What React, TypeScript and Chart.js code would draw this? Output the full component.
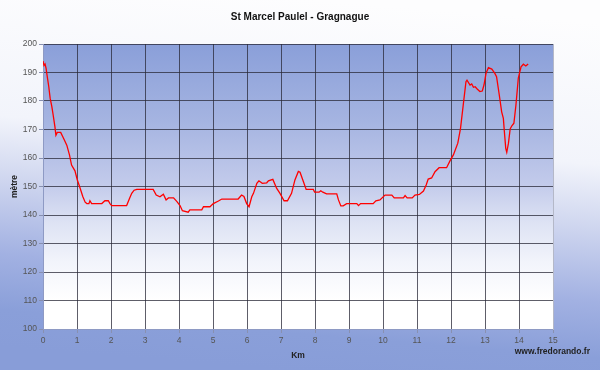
import React, { useEffect, useRef } from "react";
import { Chart, registerables } from "chart.js";

Chart.register(...registerables);

const TITLE = "St Marcel Paulel - Gragnague";
const X_TITLE = "Km";
const Y_TITLE = "mètre";
const CREDIT = "www.fredorando.fr";

const xTicks = [0, 1, 2, 3, 4, 5, 6, 7, 8, 9, 10, 11, 12, 13, 14, 15];
const yTicks = [100, 110, 120, 130, 140, 150, 160, 170, 180, 190, 200];

const distanceKm = [
  0.0, 0.03, 0.06, 0.09, 0.12, 0.17, 0.21, 0.26, 0.3, 0.35, 0.38, 0.42, 0.52, 0.6, 0.7, 0.78, 0.84, 0.94,
  1.01, 1.09, 1.17, 1.24, 1.29, 1.35, 1.38, 1.43, 1.73, 1.82, 1.92, 1.97, 2.02, 2.46, 2.55, 2.61, 2.68,
  2.76, 3.24, 3.33, 3.44, 3.54, 3.62, 3.69, 3.84, 3.94, 4.03, 4.1, 4.27, 4.32, 4.67, 4.72, 4.91, 5.01,
  5.16, 5.26, 5.74, 5.84, 5.91, 5.99, 6.06, 6.14, 6.19, 6.29, 6.35, 6.45, 6.58, 6.63, 6.76, 6.87, 6.97,
  7.09, 7.19, 7.31, 7.41, 7.51, 7.56, 7.66, 7.74, 7.95, 7.99, 8.12, 8.17, 8.23, 8.34, 8.64, 8.69, 8.76,
  8.83, 8.93, 9.23, 9.28, 9.34, 9.71, 9.79, 9.91, 10.06, 10.26, 10.33, 10.6, 10.65, 10.71, 10.86, 10.94,
  11.07, 11.19, 11.27, 11.33, 11.43, 11.53, 11.65, 11.87, 11.97, 12.07, 12.2, 12.28, 12.36, 12.44, 12.47,
  12.56, 12.61, 12.66, 12.71, 12.77, 12.85, 12.92, 12.97, 13.03, 13.1, 13.2, 13.29, 13.34, 13.42, 13.49,
  13.54, 13.57, 13.61, 13.64, 13.69, 13.74, 13.79, 13.85, 13.91, 13.98, 14.06, 14.13, 14.2, 14.27,
];

const altitudeM = [
  194, 192.5, 193, 191.5, 189, 185, 181, 178, 175, 171, 168, 169, 169, 167, 164.5, 161, 157.5, 155.5,
  152.3, 149.5, 146.5, 144.5, 144, 144, 145, 144, 144, 145, 145, 144, 143.3, 143.3, 146, 147.6, 148.7,
  149, 149, 147, 146.4, 147.3, 145.3, 146, 146, 144.7, 143.3, 141.5, 141, 141.8, 141.8, 142.9, 142.9, 144,
  144.9, 145.6, 145.6, 147, 146.5, 144, 142.9, 146.4, 147.6, 151.1, 152, 151.1, 151.3, 152, 152.5, 149.4, 147.6,
  145, 145, 147.6, 152.3, 155.3, 155, 151.7, 149, 149, 148, 148, 148.5, 148, 147.4, 147.4, 145.3, 143.2,
  143.2, 144, 144, 143.3, 144, 144, 145, 145.3, 147, 147, 146, 146, 146.8, 146, 146, 147,
  147.2, 148.4, 150.5, 152.6, 153, 155.2, 156.6, 156.6, 159, 161.1, 165.2, 170.4, 178.6, 186.8, 187.3,
  185.6, 186, 184.8, 185, 184.2, 183.3, 183.5, 185.6, 189.7, 191.7, 191.2, 189.7, 188.5, 182.1, 176.2,
  173.9, 169.2, 163.4, 162, 165.2, 170.2, 171.3, 172.2, 178.6, 188, 192, 192.9, 192.3, 193,
];

const FONT = "'Liberation Sans', Arial, sans-serif";

const backgroundPlugin = {
  id: "gradientBackground",
  beforeDraw(chart: any) {
    const { ctx, width, height, chartArea: a } = chart;
    ctx.save();
    const g = ctx.createLinearGradient(width / 2 + 15, 0, width / 2 - 15, height);
    g.addColorStop(0, "rgb(253,253,254)");
    g.addColorStop(0.38, "rgb(242,244,251)");
    g.addColorStop(0.55, "rgb(207,214,239)");
    g.addColorStop(0.75, "rgb(162,177,226)");
    g.addColorStop(0.9, "rgb(138,159,217)");
    g.addColorStop(1, "rgb(136,157,216)");
    ctx.fillStyle = g;
    ctx.fillRect(0, 0, width, height);

    const pg = ctx.createLinearGradient(0, a.top, 0, a.top + (a.bottom - a.top) * 0.9);
    pg.addColorStop(0, "rgb(138,159,217)");
    pg.addColorStop(0.3, "rgb(165,180,225)");
    pg.addColorStop(0.55, "rgb(195,203,235)");
    pg.addColorStop(0.7, "rgb(222,227,244)");
    pg.addColorStop(0.85, "rgb(242,244,251)");
    pg.addColorStop(1, "rgb(255,255,255)");
    ctx.fillStyle = pg;
    ctx.fillRect(a.left, a.top, a.right - a.left, a.bottom - a.top);
    ctx.restore();
  },
  afterDraw(chart: any) {
    const { ctx } = chart;
    ctx.save();
    ctx.font = `bold 8.5px ${FONT}`;
    ctx.fillStyle = "#222";
    ctx.textAlign = "right";
    ctx.textBaseline = "middle";
    ctx.fillText(CREDIT, 590, 352);
    ctx.restore();
  },
};

export default function App() {
  const ref = useRef<HTMLCanvasElement | null>(null);

  useEffect(() => {
    if (!ref.current) return;
    const points = distanceKm.map((x, i) => ({ x, y: altitudeM[i] }));
    const gridColor = (c: any) => {
      const v = c.tick ? c.tick.value : null;
      if (v === xTicks[xTicks.length - 1]) return "#b4b8c8";
      return "rgba(40,40,55,0.75)";
    };
    const chart = new Chart(ref.current, {
      type: "line",
      data: {
        datasets: [
          {
            data: points,
            borderColor: "#ff0000",
            borderWidth: 1.3,
            pointRadius: 0,
            tension: 0,
            fill: false,
          },
        ],
      },
      plugins: [backgroundPlugin],
      options: {
        responsive: false,
        animation: false,
        layout: { padding: { top: 0, left: 0, right: 0, bottom: 0 } },
        plugins: {
          legend: { display: false },
          tooltip: { enabled: false },
          title: {
            display: true,
            text: TITLE,
            color: "#111",
            font: { family: FONT, size: 10, weight: "bold" },
            padding: { top: 11, bottom: 21 },
          },
        },
        scales: {
          x: {
            type: "linear",
            min: xTicks[0],
            max: xTicks[xTicks.length - 1],
            afterFit: (s: any) => {
              s.height = 41;
            },
            ticks: {
              stepSize: 1,
              autoSkip: false,
              maxRotation: 0,
              padding: 3,
              color: "#555",
              font: { family: FONT, size: 8.5 },
            },
            grid: { color: gridColor, lineWidth: 1, tickLength: 4, tickColor: "#8890b0" },
            border: { display: true, color: "#8e9ac4", width: 1 },
            title: {
              display: true,
              text: X_TITLE,
              color: "#222",
              font: { family: FONT, size: 8.5, weight: "bold" },
              padding: { top: 0, bottom: 9 },
            },
          },
          y: {
            type: "linear",
            min: yTicks[0],
            max: yTicks[yTicks.length - 1],
            afterFit: (s: any) => {
              s.width = 43;
            },
            ticks: {
              stepSize: 10,
              padding: 2,
              color: "#555",
              font: { family: FONT, size: 8.5 },
            },
            grid: { color: "rgba(40,40,55,0.75)", lineWidth: 1, tickLength: 4, tickColor: "#8890b0" },
            border: { display: true, color: "#8e9ac4", width: 1 },
            title: {
              display: true,
              text: Y_TITLE,
              color: "#222",
              font: { family: FONT, size: 8.5, weight: "bold" },
              padding: { top: 10, bottom: 0 },
            },
          },
          yRight: {
            type: "linear",
            position: "right",
            min: yTicks[0],
            max: yTicks[yTicks.length - 1],
            afterFit: (s: any) => {
              s.width = 47;
            },
            ticks: { display: false },
            grid: { display: false, drawTicks: false },
            border: { display: true, color: "#b4b8c8", width: 1 },
          },
        },
      },
    });
    return () => chart.destroy();
  }, []);

  return (
    <div style={{ position: "fixed", left: 0, top: 0, width: 600, height: 370 }}>
      <canvas ref={ref} width={600} height={370} />
    </div>
  );
}
